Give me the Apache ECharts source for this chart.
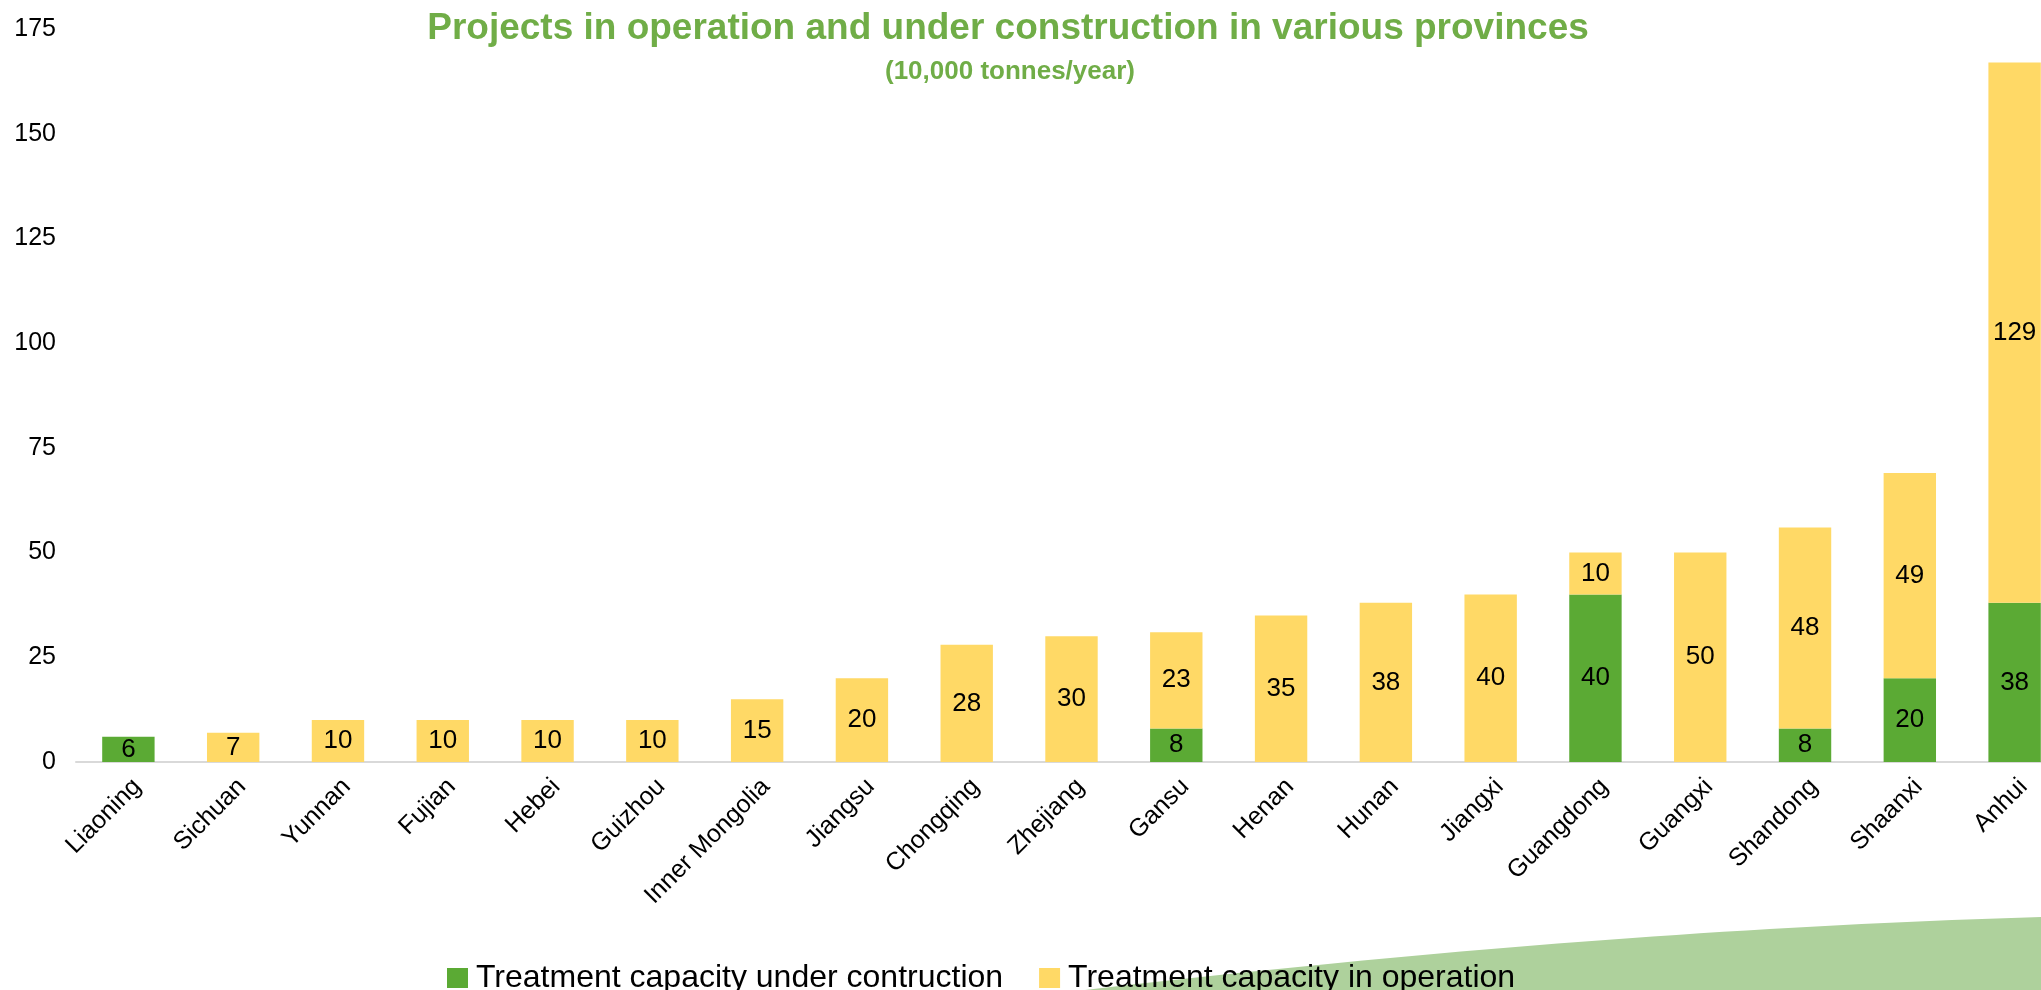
<!DOCTYPE html>
<html>
<head>
<meta charset="utf-8">
<script src="https://cdn.jsdelivr.net/npm/echarts@6/dist/echarts.min.js"></script>
<style>html,body{margin:0;padding:0;background:#fff}#c{width:2041px;height:990px}</style>
</head>
<body>
<div id="c"></div>
<script>
const provinces = ['Liaoning','Sichuan','Yunnan','Fujian','Hebei','Guizhou','Inner Mongolia','Jiangsu','Chongqing','Zhejiang','Gansu','Henan','Hunan','Jiangxi','Guangdong','Guangxi','Shandong','Shaanxi','Anhui'];
const underConstruction = [6,0,0,0,0,0,0,0,0,0,8,0,0,0,40,0,8,20,38];
const inOperation = [0,7,10,10,10,10,15,20,28,30,23,35,38,40,10,50,48,49,129];
const yTicks = {min:0, max:175, interval:25};
const seriesNames = ['Treatment capacity under contruction','Treatment capacity in operation'];

const FONT = 'Liberation Sans, Arial, sans-serif';

// decorative swoosh in the bottom-right corner (quadratic curve sampled)
const deco = [];
for (let i = 0; i <= 40; i++) {
  const t = i / 40, u = 1 - t;
  deco.push([u*u*1085 + 2*u*t*1600 + t*t*2041, u*u*990 + 2*u*t*930 + t*t*917]);
}
deco.push([2041, 990]);

const chart = echarts.init(document.getElementById('c'), null, {renderer:'canvas'});
const lbl = {show:true, position:'inside', color:'#000', fontSize:26, fontFamily:FONT,
  formatter: p => (p.value ? p.value : '')};
chart.setOption({
  animation:false,
  backgroundColor:'#fff',
  title:[
    {text:'Projects in operation and under construction in various provinces', left:1003, top:5, textAlign:'center',
     textStyle:{color:'#70AD47', fontSize:37, fontWeight:'bold', fontFamily:FONT}},
    {text:'(10,000 tonnes/year)', left:1005, top:54, textAlign:'center',
     textStyle:{color:'#70AD47', fontSize:26, fontWeight:'bold', fontFamily:FONT}}
  ],
  legend:{left:442, top:957, itemWidth:21, itemHeight:20, itemGap:36, icon:'rect',
    textStyle:{fontSize:32, color:'#000', fontFamily:FONT, padding:[0,0,0,3]}, data:seriesNames},
  grid:{left:76, top:29, width:1991, height:733, containLabel:false, outerBoundsMode:'none'},
  xAxis:{type:'category', data:provinces,
    axisLine:{lineStyle:{color:'#D9D9D9', width:2}}, axisTick:{show:false},
    axisLabel:{rotate:45, fontSize:25, color:'#000', margin:12, verticalAlign:'top', fontFamily:FONT, interval:0}},
  yAxis:{type:'value', min:yTicks.min, max:yTicks.max, interval:yTicks.interval,
    splitLine:{show:false}, axisLine:{show:false}, axisTick:{show:false},
    axisLabel:{fontSize:25, color:'#000', margin:20, fontFamily:FONT}},
  graphic:[{type:'polygon', silent:true, z:-10,
    shape:{points:deco},
    style:{fill:'#AED19C'}}],
  series:[
    {name:seriesNames[0], type:'bar', stack:'a', data:underConstruction, barWidth:'50%',
     itemStyle:{color:'#5BAA34'}, label:lbl},
    {name:seriesNames[1], type:'bar', stack:'a', data:inOperation, barWidth:'50%',
     itemStyle:{color:'#FFD966'}, label:lbl}
  ]
});
</script>
</body>
</html>
